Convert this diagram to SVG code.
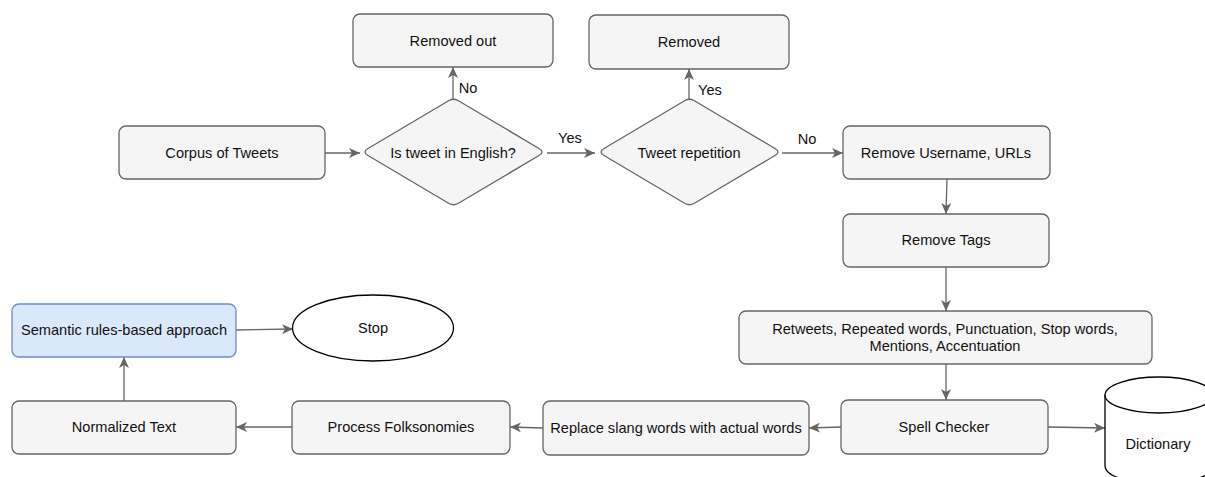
<svg xmlns="http://www.w3.org/2000/svg" width="1205" height="477" viewBox="0 0 1205 477">
  <style>
    .box { fill: #f5f5f5; stroke: #666666; stroke-width: 1.3; }
    .blue { fill: #dae8fc; stroke: #6c8ebf; stroke-width: 1.3; }
    .term { fill: #ffffff; stroke: #000000; stroke-width: 1.3; }
    .edge { fill: none; stroke: #666666; stroke-width: 1.3; marker-end: url(#arrow); }
    text { font-family: "Liberation Sans", Arial, Helvetica, sans-serif; font-size: 14.6px; fill: #111111; text-anchor: middle; }
  </style>
  <defs>
    <marker id="arrow" markerUnits="userSpaceOnUse" markerWidth="12" markerHeight="10" refX="11" refY="5" orient="auto">
      <path d="M0,0 L11,5 L0,10 L3,5 Z" fill="#666666"/>
    </marker>
  </defs>

  <rect width="1205" height="477" fill="#ffffff"/>

  <!-- connectors -->
  <g id="connectors">
    <path class="edge" d="M325,153 L360,153"/>
    <path class="edge" d="M453,101 L453,67"/>
    <path class="edge" d="M547,153 L595,153"/>
    <path class="edge" d="M689,101 L689,69"/>
    <path class="edge" d="M782,153 L843,153"/>
    <path class="edge" d="M947,179 L946,214"/>
    <path class="edge" d="M946,267 L946,311"/>
    <path class="edge" d="M946,364 L946,400"/>
    <path class="edge" d="M1048,427 L1105,428"/>
    <path class="edge" d="M841,427 L809,428"/>
    <path class="edge" d="M543,428 L510,427"/>
    <path class="edge" d="M292,427 L236,427"/>
    <path class="edge" d="M124,401 L124,357"/>
    <path class="edge" d="M236,330 L293,329"/>
    <text x="468" y="93">No</text>
    <text x="570" y="143">Yes</text>
    <text x="710" y="95">Yes</text>
    <text x="807" y="144">No</text>
  </g>

  <g id="corpus">
    <rect class="box" x="119" y="126" width="206" height="53" rx="7"/>
    <text x="222" y="158">Corpus of Tweets</text>
  </g>

  <g id="is-english">
    <path class="box" d="M368,148.5 L449,100.5 Q453.5,98 458,100.5 L539,148.5 Q545,152 539,155.5 L458,203.5 Q453.5,206 449,203.5 L368,155.5 Q362,152 368,148.5 Z"/>
    <text x="453" y="158">Is tweet in English?</text>
  </g>

  <g id="removed-out">
    <rect class="box" x="353" y="14" width="200" height="53" rx="7"/>
    <text x="453" y="46">Removed out</text>
  </g>

  <g id="tweet-repetition">
    <path class="box" d="M604,148.5 L685,100.5 Q689.5,98 694,100.5 L775,148.5 Q781,152 775,155.5 L694,203.5 Q689.5,206 685,203.5 L604,155.5 Q598,152 604,148.5 Z"/>
    <text x="689" y="158">Tweet repetition</text>
  </g>

  <g id="removed">
    <rect class="box" x="589" y="15" width="200" height="54" rx="7"/>
    <text x="689" y="47">Removed</text>
  </g>

  <g id="remove-username">
    <rect class="box" x="843" y="126" width="207" height="53" rx="7"/>
    <text x="946" y="158">Remove Username, URLs</text>
  </g>

  <g id="remove-tags">
    <rect class="box" x="843" y="214" width="206" height="53" rx="7"/>
    <text x="946" y="245">Remove Tags</text>
  </g>

  <g id="retweets">
    <rect class="box" x="739" y="311" width="413" height="53" rx="7"/>
    <text x="945" y="334">Retweets, Repeated words, Punctuation, Stop words,</text>
    <text x="945" y="351">Mentions, Accentuation</text>
  </g>

  <g id="spell-checker">
    <rect class="box" x="841" y="400" width="207" height="54" rx="7"/>
    <text x="944" y="432">Spell Checker</text>
  </g>

  <g id="dictionary">
    <path class="term" d="M1105,395 A54,18 0 0 1 1213,395 L1213,466 A54,18 0 0 1 1105,466 Z"/>
    <path fill="none" stroke="#000000" stroke-width="1.3" d="M1105,395 A54,18 0 0 0 1213,395"/>
    <text x="1158" y="449">Dictionary</text>
  </g>

  <g id="replace-slang">
    <rect class="box" x="543" y="401" width="266" height="54" rx="7"/>
    <text x="676" y="433">Replace slang words with actual words</text>
  </g>

  <g id="folksonomies">
    <rect class="box" x="292" y="401" width="218" height="53" rx="7"/>
    <text x="401" y="432">Process Folksonomies</text>
  </g>

  <g id="normalized">
    <rect class="box" x="12" y="401" width="224" height="53" rx="7"/>
    <text x="124" y="432">Normalized Text</text>
  </g>

  <g id="semantic">
    <rect class="blue" x="12" y="304" width="224" height="53" rx="7"/>
    <text x="124" y="335">Semantic rules-based approach</text>
  </g>

  <g id="stop">
    <ellipse class="term" cx="373" cy="328" rx="80.5" ry="33"/>
    <text x="373" y="333">Stop</text>
  </g>
</svg>
